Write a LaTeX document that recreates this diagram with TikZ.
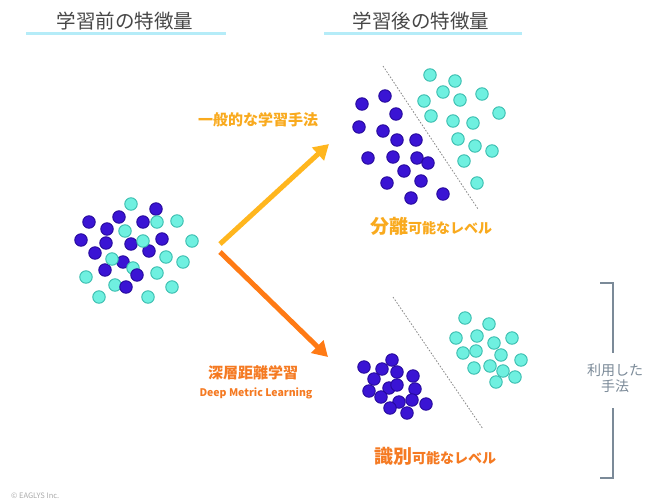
\documentclass[tikz,border=0pt]{standalone}
\usepackage{fontspec}
\setmainfont{Noto Sans CJK JP}
\usetikzlibrary{arrows.meta}
\definecolor{dotblue}{HTML}{3A14D4}
\definecolor{dotblueedge}{HTML}{26099C}
\definecolor{dotcyan}{HTML}{6FF0E0}
\definecolor{dotcyanedge}{HTML}{38BCAE}
\definecolor{arrowyellow}{HTML}{FFB61E}
\definecolor{textyellow}{HTML}{F9AA1E}
\definecolor{arroworange}{HTML}{FF7A14}
\definecolor{textorange}{HTML}{F57A22}
\definecolor{titlegray}{HTML}{474747}
\definecolor{barcyan}{HTML}{B5ECF8}
\definecolor{brgray}{HTML}{7B8A98}
\definecolor{sepgray}{HTML}{8A8A8A}
\definecolor{copygray}{HTML}{AAAAAA}
\begin{document}
\begin{tikzpicture}[x=1pt,y=-1pt,
  bdot/.style={circle,minimum size=12.5pt,inner sep=0pt,fill=dotblue,draw=dotblueedge,line width=0.9pt},
  cdot/.style={circle,minimum size=12.5pt,inner sep=0pt,fill=dotcyan,draw=dotcyanedge,line width=0.9pt},
  title/.style={font=\fontsize{19.5}{19.5}\selectfont,text=titlegray,inner sep=0pt},
  titlebar/.style={draw=barcyan,line width=3pt},
  bigarrow/.style={line width=5pt,-{Triangle[length=15pt,width=17pt]}},
  sep/.style={draw=sepgray,line width=0.8pt,dash pattern=on 1.6pt off 1.6pt},
  bracket/.style={draw=brgray,line width=1.4pt},
  lbl/.style={inner sep=0pt,font=\bfseries\fontsize{15}{15}\selectfont}
]
\useasboundingbox (0,0) rectangle (645,501);
\fill[white] (0,0) rectangle (645,501);

% titles
\node[title] (t1) at (125,21) {学習前の特徴量};
\node[title] (t2) at (421,21) {学習後の特徴量};
\coordinate (b1l) at (26,33.5); \coordinate (b1r) at (226,33.5);
\coordinate (b2l) at (324,33.5); \coordinate (b2r) at (522,33.5);
\draw[titlebar] (b1l) -- (b1r);
\draw[titlebar] (b2l) -- (b2r);

% left mixed cluster
\foreach \x/\y [count=\i] in {156/209,119/217,143/222,89/222,107/229,81/240,106/243,162/239,131/244,149/251,95/253,123/262,105/270}
  \node[bdot] (lb\i) at (\x,\y) {};
\foreach \x/\y [count=\i] in {131/204,177/221,157/222,125/231,192/241,143/241,166/257,183/262,112/259,133/268,86/277,157/273,115/285,172/287,99/297,148/297}
  \node[cdot] (lc\i) at (\x,\y) {};
\node[bdot] (lb14) at (137,275) {};
\node[bdot] (lb15) at (126,287) {};

% top right cluster
\foreach \x/\y [count=\i] in {385/96,362/104,396/114,359/127,383/131,397/140,416/140,368/158,393/157,417/158,428/163,404/171,421/181,387/183,411/198,443/194}
  \node[bdot] (tb\i) at (\x,\y) {};
\foreach \x/\y [count=\i] in {430/75,455/81,443/92,482/94,424/101,460/100,499/113,431/116,453/121,473/123,458/139,475/146,492/151,464/161,477/183}
  \node[cdot] (tc\i) at (\x,\y) {};
\coordinate (s1a) at (383,66); \coordinate (s1b) at (478,209);
\draw[sep] (s1a) -- (s1b);

% bottom right cluster
\foreach \x/\y [count=\i] in {465/318,489/324,456/338,477/336,512/338,494/343,463/353,476/351,501/355,521/360,474/368,490/366,503/371,515/377,496/382}
  \node[cdot] (rc\i) at (\x,\y) {};
\foreach \x/\y [count=\i] in {392/360,364/367,382/369,397/372,413/376,374/379,389/388,397/385,369/391,415/389,381/397,412/400,426/404,399/402,390/408,407/413}
  \node[bdot] (rb\i) at (\x,\y) {};
\coordinate (s2a) at (393,297); \coordinate (s2b) at (483,429);
\draw[sep] (s2a) -- (s2b);

% arrows
\coordinate (ya) at (220,244); \coordinate (yb) at (329,144);
\coordinate (oa) at (220,252); \coordinate (ob) at (328,357);
\draw[bigarrow,arrowyellow] (ya) -- (yb);
\draw[bigarrow,arroworange] (oa) -- (ob);

% labels
\node[lbl,text=textyellow] (l1) at (258,120) {一般的な学習手法};
\node[lbl,text=textorange] (l2) at (253,373) {深層距離学習};
\node[inner sep=0pt,font=\bfseries\fontsize{10.5}{11}\selectfont,text=textorange] (l3) at (256,393) {Deep Metric Learning};
\node[inner sep=0pt,text=textyellow,font=\bfseries] (r1) at (431,226)
  {{\fontsize{19}{19}\selectfont 分離}{\fontsize{14}{14}\selectfont 可能なレベル}};
\node[inner sep=0pt,text=textorange,font=\bfseries] (r2) at (435,456)
  {{\fontsize{19}{19}\selectfont 識別}{\fontsize{14}{14}\selectfont 可能なレベル}};

% bracket
\node[inner sep=0pt,align=center,text=brgray,font=\fontsize{14}{16}\selectfont] (use) at (615,378) {利用した\\手法};
\coordinate (k1) at (600,283); \coordinate (k2) at (613,283); \coordinate (k3) at (613,353);
\coordinate (k4) at (613,408); \coordinate (k5) at (613,478); \coordinate (k6) at (600,478);
\draw[bracket] (k1) -- (k2) -- (k3);
\draw[bracket] (k4) -- (k5) -- (k6);

% copyright
\node[inner sep=0pt,anchor=west,text=copygray,font=\fontsize{7.5}{8}\selectfont] (copy) at (11,496) {© EAGLYS Inc.};
\end{tikzpicture}
\end{document}
